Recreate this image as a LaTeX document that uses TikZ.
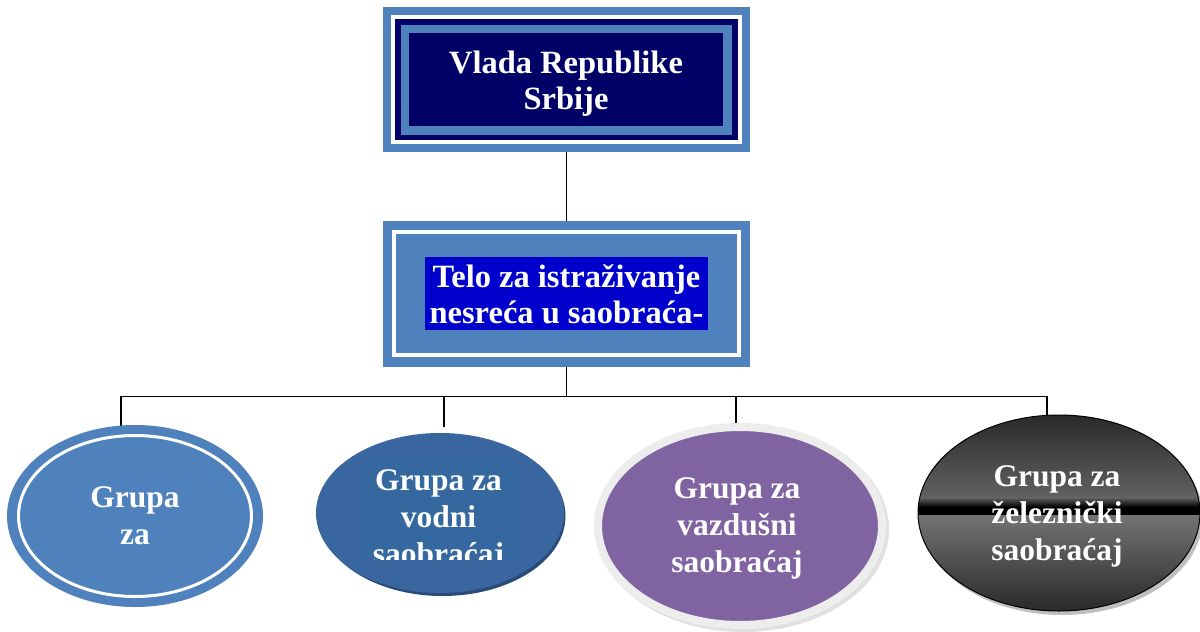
\documentclass[tikz,border=0pt]{standalone}
\usepackage{fontspec}
\setmainfont{Liberation Serif}
\usetikzlibrary{calc,shapes.geometric}
\definecolor{ltblue}{HTML}{4F81BD}
\definecolor{navy}{HTML}{000066}
\definecolor{royal}{HTML}{0000CC}
\definecolor{steel}{HTML}{3A66A0}
\definecolor{steeldark}{HTML}{2A4B7A}
\definecolor{steeltext}{HTML}{35689E}
\definecolor{purp}{HTML}{8064A2}
\definecolor{rim}{HTML}{EDEDED}
\begin{document}
\begin{tikzpicture}[x=1pt,y=-1pt,
  conn/.style={draw=black,line width=1.9pt},
  boxouter/.style={fill=ltblue,inner sep=0pt,minimum width=367pt},
  lbl/.style={text=white,font=\bfseries\fontsize{32.5}{35.5}\selectfont,align=center,inner sep=0pt},
  glbl/.style={text=white,font=\bfseries\fontsize{31.5}{37}\selectfont,align=center,inner sep=0pt},
  oval/.style={ellipse,inner sep=0pt}]
\useasboundingbox[fill=white] (0,0) rectangle (1200,632);

% connector end points
\coordinate (bus) at (566.5,396.5);
\coordinate (d1) at (121,427);
\coordinate (d2) at (444,427);
\coordinate (d3) at (736,426);
\coordinate (d4) at (1047,416);

% top box
\node[boxouter,minimum height=145pt] (vlada) at (566.5,79.5) {};
\draw[white,line width=4pt] (393,17) rectangle (740,142);
\fill[navy] (395,19) rectangle (738,140);
\fill[ltblue] (401,25) rectangle (732,135);
\fill[navy] (409,33) rectangle (723,126);
\node[lbl,anchor=base] (vladaT) at (566,109) {Vlada Republike\\Srbije};

% middle box
\node[boxouter,minimum height=146pt] (telo) at (566.5,294) {};
\draw[white,line width=4pt] (394,232) rectangle (739,354.5);
\fill[royal] (425,257) rectangle (708,330);
\node[lbl,anchor=base] (teloT) at (566.5,323) {Telo za istraživanje\\nesreća u saobraća-};

\draw[conn] (vlada.south) -- (telo.north);
\draw[conn] (telo.south) -- (bus);
\draw[conn] (d1) -- (d1|-bus) -- (d4|-bus) -- (d4);
\draw[conn] (d2|-bus) -- (d2);
\draw[conn] (d3|-bus) -- (d3);

% group 1
\node[oval,fill=ltblue,minimum width=256pt,minimum height=182pt] (g1) at (135,516) {};
\draw[white,line width=3pt] (g1.center) ellipse [x radius=116.5, y radius=80.5];
\node[glbl,anchor=base] (g1T) at (135,544) {Grupa\\za};

% group 2
\fill[steeldark] (442.5,516) ellipse [x radius=123, y radius=80];
\node[oval,fill=steel,minimum width=248pt,minimum height=160pt] (g2) at (440,513) {};
\fill[steeltext] (361,462) rectangle (515,559);
\begin{scope}
  \clip (361,462) rectangle (515,559);
  \node[glbl,anchor=base] (g2T) at (438.5,564) {Grupa za\\vodni\\saobraćaj};
\end{scope}

% group 3
\fill[black!12] (743,529) ellipse [x radius=146, y radius=103];
\node[oval,fill=purp,draw=rim,line width=8pt,minimum width=284pt,minimum height=198pt] (g3) at (740,526) {};
\node[glbl,anchor=base] (g3T) at (737,572) {Grupa za\\vazdušni\\saobraćaj};

% group 4
\fill[black!25] (1062,517) ellipse [x radius=141, y radius=98];
\begin{scope}
  \clip (1059,513) ellipse [x radius=141, y radius=98];
  \shade[top color=black!85,bottom color=black!62] (910,410) rectangle (1205,498);
  \shade[top color=black!62,bottom color=black] (910,497.5) rectangle (1205,507);
  \fill[black] (910,506.5) rectangle (1205,516);
  \shade[top color=black!55,bottom color=black!85] (910,515.5) rectangle (1205,615);
\end{scope}
\node[oval,draw=black,line width=1pt,minimum width=282pt,minimum height=196pt] (g4) at (1059,513) {};
\node[glbl,anchor=base] (g4T) at (1057,560) {Grupa za\\železnički\\saobraćaj};
\end{tikzpicture}
\end{document}
